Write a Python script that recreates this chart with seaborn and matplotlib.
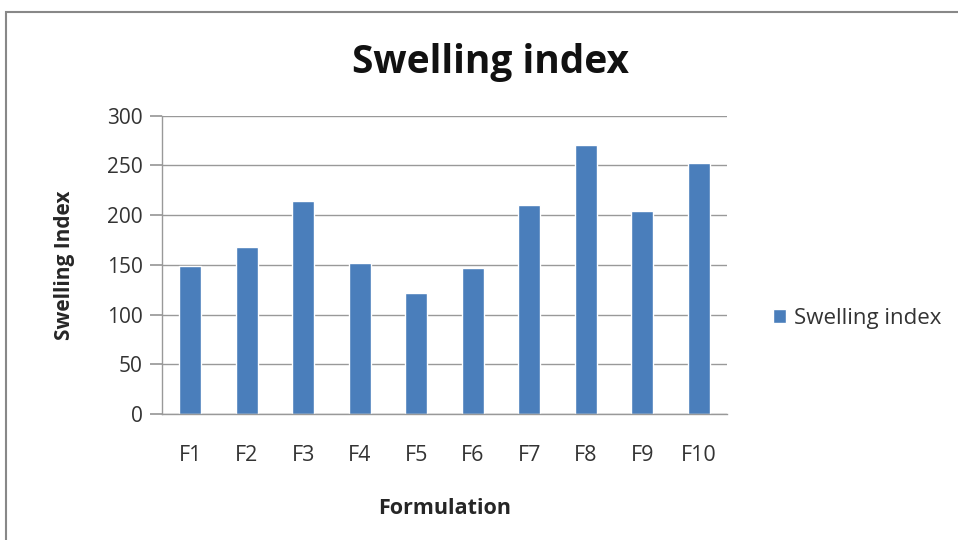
import matplotlib
matplotlib.use("Agg")
import matplotlib.pyplot as plt
import seaborn as sns
import pandas as pd
from matplotlib.patches import Rectangle

formulations = ["F1", "F2", "F3", "F4", "F5", "F6", "F7", "F8", "F9", "F10"]
swelling = [149, 168, 214, 152, 122, 147, 210, 270, 204, 252]
yticks = [0, 50, 100, 150, 200, 250, 300]

sns.set_theme(style="white")
plt.rcParams['font.family'] = ['Open Sans', 'DejaVu Sans']

df = pd.DataFrame({"Formulation": formulations, "Swelling index": swelling})

fig = plt.figure(figsize=(9.58, 5.4), dpi=100)
ax = fig.add_axes([0.169, 0.233, 0.590, 0.553])

sns.barplot(data=df, x="Formulation", y="Swelling index", color="#4A7EBB",
            width=0.39, ax=ax, label="Swelling index", saturation=1)

ax.set_ylim(0, 300)
ax.set_yticks(yticks)
ax.set_xlim(-0.5, len(formulations) - 0.5)
ax.yaxis.grid(True, color="#999999", linewidth=1.0)
ax.set_axisbelow(True)
for s in ["top", "right"]:
    ax.spines[s].set_visible(False)
for s in ["left", "bottom"]:
    ax.spines[s].set_color("#999999")
    ax.spines[s].set_linewidth(1.0)
ax.tick_params(axis="y", length=9, color="#999999", labelsize=15, left=True, pad=5)
ax.tick_params(axis="x", length=0, labelsize=15.5, pad=22)
for lbl in ax.get_yticklabels() + ax.get_xticklabels():
    lbl.set_color("#333333")

ax.set_xlabel("Formulation", fontsize=15.5, fontweight="bold", labelpad=23)
ax.set_ylabel("Swelling Index", fontsize=15, fontweight="bold", labelpad=23)

fig.text(0.512, 0.885, "Swelling index", ha="center", va="center",
         fontsize=28, fontweight="bold", color="#111111")

ax.legend(loc="center left", bbox_to_anchor=(1.045, 0.32), frameon=False,
          fontsize=16, handlelength=0.6, handleheight=0.6, handletextpad=0.35,
          labelcolor="#333333")

fig.patches.append(Rectangle((0.006, -0.1), 1.2, 1.078, transform=fig.transFigure,
                             fill=False, edgecolor="#888888", linewidth=1.5))

fig.savefig("out.png", dpi=100)
